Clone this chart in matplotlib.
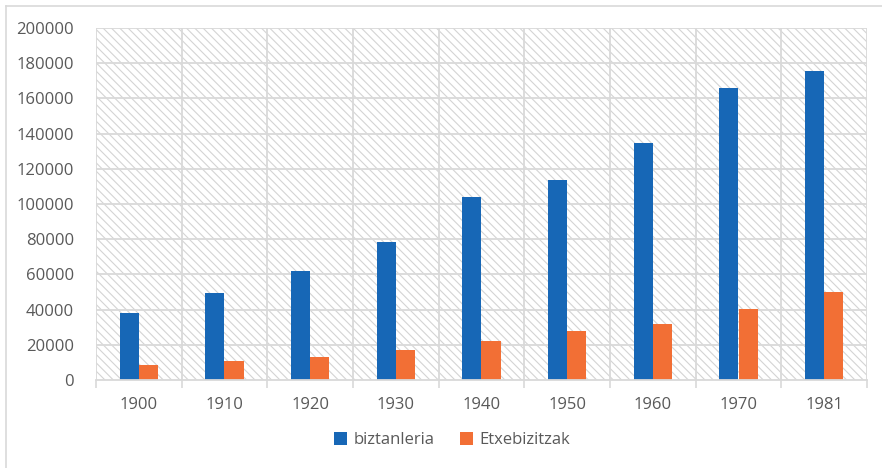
import numpy as np
import matplotlib.pyplot as plt
from matplotlib.lines import Line2D

# donnees
annees = ['1900', '1910', '1920', '1930', '1940', '1950', '1960', '1970', '1981']
biztanleria = [38000, 49300, 62000, 78400, 104000, 113700, 134800, 165700, 175300]
etxebizitzak = [8500, 11000, 12900, 17000, 22000, 28000, 32000, 40300, 50000]

bleu = '#1767B6'
orange = '#F26F35'
gris = '#595959'

plt.rcParams['font.family'] = ['Open Sans', 'DejaVu Sans']
plt.rcParams['hatch.linewidth'] = 0.8
plt.rcParams['hatch.color'] = '#d4d4d4'

fig = plt.figure(figsize=(8.82, 4.68), dpi=100)
ax = fig.add_axes([96/882, 1-380/468, (867-96)/882, (380-28)/468])

# bordure du cadre
fig.add_artist(Line2D([6/882, 6/882], [0, 1-6/468], color='#d9d9d9', lw=1.2, transform=fig.transFigure))
fig.add_artist(Line2D([6/882, 1], [1-6/468, 1-6/468], color='#d9d9d9', lw=1.2, transform=fig.transFigure))

x = np.arange(len(annees))
w = 0.225

# fond hachure
ax.add_patch(plt.Rectangle((-0.5, 0), len(annees), 200000, facecolor='white',
                           hatch='\\\\\\\\', edgecolor='#d4d4d4', lw=0, zorder=0))

ax.bar(x - w/2, biztanleria, w, color=bleu, label='biztanleria', zorder=3)
ax.bar(x + w/2, etxebizitzak, w, color=orange, label='Etxebizitzak', zorder=3)

ax.set_xlim(-0.5, len(annees) - 0.5)
ax.set_ylim(0, 200000)
ax.set_yticks(range(0, 200001, 20000))

# grille
for y in range(20000, 200001, 20000):
    ax.axhline(y, color='#d9d9d9', lw=1.3, zorder=1)
for b in np.arange(-0.5, len(annees), 1):
    ax.axvline(b, color='#d9d9d9', lw=1.3, zorder=1)

ax.set_xticks(x)
ax.set_xticklabels(annees)
ax.set_xticks(np.arange(-0.5, len(annees), 1), minor=True)
ax.tick_params(axis='x', which='major', length=0, pad=12, labelsize=12, labelcolor=gris)
ax.tick_params(axis='x', which='minor', length=6, color='#d9d9d9', width=1.2)
ax.tick_params(axis='y', length=0, pad=16, labelsize=12, labelcolor=gris)

for s in ['top', 'right', 'left']:
    ax.spines[s].set_visible(False)
ax.spines['bottom'].set_color('#d9d9d9')
ax.spines['bottom'].set_linewidth(1.3)
ax.spines['bottom'].set_zorder(4)

fig.legend(loc='center', bbox_to_anchor=(452/882, 1-440/468), ncol=2, frameon=False,
           fontsize=12, labelcolor=gris, handlelength=0.8, handleheight=0.8,
           handletextpad=0.4, columnspacing=1.5)

fig.savefig('out.png', dpi=100)
